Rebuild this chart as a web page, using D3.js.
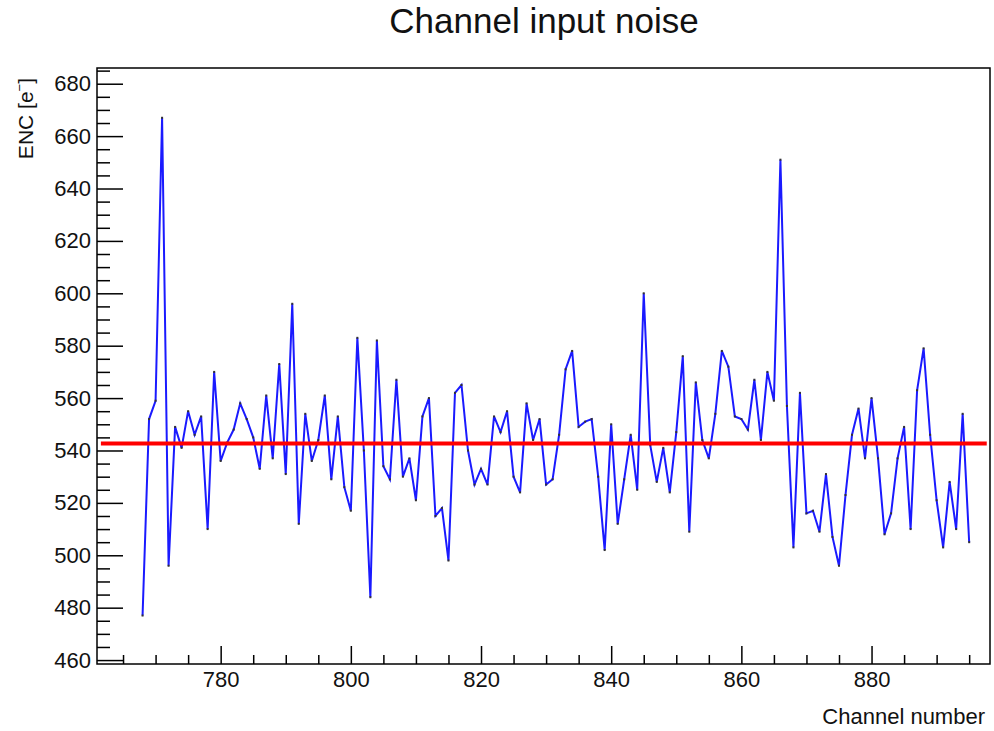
<!DOCTYPE html>
<html><head><meta charset="utf-8">
<script src="https://cdn.jsdelivr.net/npm/d3@7"></script>
<style>
html,body{margin:0;padding:0;background:#fff;}
svg{display:block;font-family:"Liberation Sans",Arial,Helvetica,sans-serif;}
</style>
</head><body>
<svg id="c" width="994" height="731"></svg>
<script>
// ---- data ----
const chartTitle = "Channel input noise";
const xTitle = "Channel number";
const firstChannel = 768;
const noise = [
  477, 552, 559, 667, 496, 549, 541, 555, 546, 553, // 768-777
  510, 570, 536, 543, 548, 558, 552, 545, 533, 561, // 778-787
  537, 573, 531, 596, 512, 554, 536, 544, 561, 529, // 788-797
  553, 526, 517, 583, 540, 484, 582, 534, 529, 567, // 798-807
  530, 537, 521, 553, 560, 515, 518, 498, 562, 565, // 808-817
  540, 527, 533, 527, 553, 547, 555, 530, 524, 558, // 818-827
  544, 552, 527, 529, 546, 571, 578, 549, 551, 552, // 828-837
  530, 502, 550, 512, 529, 546, 525, 600, 542, 528, // 838-847
  541, 524, 547, 576, 509, 566, 544, 537, 554, 578, // 848-857
  572, 553, 552, 548, 567, 544, 570, 559, 651, 557, // 858-867
  503, 562, 516, 517, 509, 531, 507, 496, 523, 546, // 868-877
  556, 537, 560, 537, 508, 516, 537, 549, 510, 563, // 878-887
  579, 546, 521, 503, 528, 510, 554, 505            // 888-895
];
const meanNoise = 542.7;
const fitRange = [761.6, 897.7];
const xTickValues = [780, 800, 820, 840, 860, 880];
const xMinorTicks = [765,770,775,785,790,795,805,810,815,825,830,835,845,850,855,865,870,875,885,890,895];
const yTickValues = [460, 480, 500, 520, 540, 560, 580, 600, 620, 640, 660, 680];
const yMinorTicks = [465,470,475,485,490,495,505,510,515,525,530,535,545,550,555,565,570,575,585,590,595,605,610,615,625,630,635,645,650,655,665,670,675,685];
const xDomain = [761.0, 898.2];
const yDomain = [458.5, 686.0];

// ---- layout ----
const frame = {left: 97, top: 68, right: 990, bottom: 664};
const svg = d3.select("#c");
svg.append("rect").attr("width", 994).attr("height", 731).attr("fill", "#fff");

const x = d3.scaleLinear().domain(xDomain).range([frame.left, frame.right]);
const y = d3.scaleLinear().domain(yDomain).range([frame.bottom, frame.top]);

const points = noise.map((v, i) => [firstChannel + i, v]);

// frame
svg.append("rect")
  .attr("x", frame.left).attr("y", frame.top)
  .attr("width", frame.right - frame.left).attr("height", frame.bottom - frame.top)
  .attr("fill", "none").attr("stroke", "#000").attr("stroke-width", 1.5);

// x axis
const gx = svg.append("g").attr("transform", `translate(0,${frame.bottom})`);
gx.call(d3.axisBottom(x).tickValues(xTickValues).tickSize(-18).tickPadding(7).tickFormat(d3.format("d")));
const gxm = svg.append("g").attr("transform", `translate(0,${frame.bottom})`);
gxm.call(d3.axisBottom(x).tickValues(xMinorTicks).tickSize(-9).tickFormat(""));

// y axis
const gy = svg.append("g").attr("transform", `translate(${frame.left},0)`);
gy.call(d3.axisLeft(y).tickValues(yTickValues).tickSize(-26).tickPadding(6).tickFormat(d3.format("d")));
const gym = svg.append("g").attr("transform", `translate(${frame.left},0)`);
gym.call(d3.axisLeft(y).tickValues(yMinorTicks).tickSize(-13).tickFormat(""));

svg.selectAll(".domain").remove();
svg.selectAll(".tick line").attr("stroke", "#000").attr("stroke-width", 1.5);
svg.selectAll(".tick text").attr("font-size", 22).attr("fill", "#111")
  .attr("font-family", '"Liberation Sans",Arial,Helvetica,sans-serif');

// data line
const line = d3.line().x(d => x(d[0])).y(d => y(d[1]));
svg.append("path").datum(points)
  .attr("d", line).attr("fill", "none")
  .attr("stroke", "#1a1aff").attr("stroke-width", 2).attr("stroke-linejoin", "miter");

// vertex markers
svg.append("g").selectAll("rect").data(points).join("rect")
  .attr("x", d => x(d[0]) - 1).attr("y", d => y(d[1]) - 1)
  .attr("width", 2).attr("height", 2).attr("fill", "#333");

// fitted constant
svg.append("line")
  .attr("x1", x(fitRange[0])).attr("x2", x(fitRange[1]))
  .attr("y1", y(meanNoise)).attr("y2", y(meanNoise))
  .attr("stroke", "#ff0000").attr("stroke-width", 4);

// titles
svg.append("text").attr("x", 544).attr("y", 33).attr("text-anchor", "middle")
  .attr("font-size", 35).attr("fill", "#111").text(chartTitle);

svg.append("text").attr("x", 985).attr("y", 724).attr("text-anchor", "end")
  .attr("font-size", 22).attr("fill", "#111").text(xTitle);

const yt = svg.append("text")
  .attr("transform", "translate(33,78) rotate(-90)")
  .attr("text-anchor", "end").attr("font-size", 21).attr("fill", "#111");
yt.append("tspan").text("ENC [e");
yt.append("tspan").attr("font-size", 13).attr("dy", -9).text("\u2212");
yt.append("tspan").attr("dy", 9).text("]");
</script>
</body></html>
